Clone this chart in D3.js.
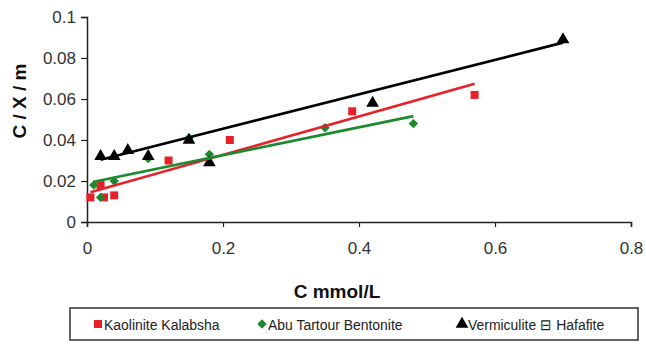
<!DOCTYPE html>
<html>
<head>
<meta charset="utf-8">
<script src="https://cdn.jsdelivr.net/npm/d3@7"></script>
<style>
  body { margin: 0; background: #fff; }
  svg { display: block; }
</style>
</head>
<body>
<div id="chart"></div>
<script>
// data
const seriesNames = ["Kaolinite Kalabsha", "Abu Tartour Bentonite", "Vermiculite \u229F Hafafite"];

const kaoliniteX = [0.005, 0.02, 0.025, 0.04, 0.12, 0.21, 0.39, 0.57];
const kaoliniteY = [0.012, 0.018, 0.012, 0.013, 0.030, 0.040, 0.054, 0.062];

const bentoniteX = [0.01, 0.02, 0.04, 0.09, 0.15, 0.18, 0.35, 0.48];
const bentoniteY = [0.018, 0.012, 0.020, 0.031, 0.041, 0.033, 0.046, 0.048];

const vermiculiteX = [0.02, 0.04, 0.06, 0.09, 0.15, 0.18, 0.42, 0.70];
const vermiculiteY = [0.032, 0.032, 0.035, 0.032, 0.040, 0.029, 0.058, 0.089];

// linear trendlines (intercept, slope) as drawn in the picture
const trendIntercept = [0.014, 0.019, 0.0287];
const trendSlope = [0.0938, 0.068, 0.084];

const xTicks = [0, 0.2, 0.4, 0.6, 0.8];
const yTicks = [0, 0.02, 0.04, 0.06, 0.08, 0.1];

const width = 646, height = 345;
const colors = ["#e8202a", "#1b8a2e", "#000000"];
const tickFont = "Arial, 'Liberation Sans', sans-serif";

const xs = [kaoliniteX, bentoniteX, vermiculiteX];
const ys = [kaoliniteY, bentoniteY, vermiculiteY];

// marker shapes: square, diamond (square turned 45deg), triangle
const markerPath = [
    d3.symbol().type(d3.symbolSquare).size(64)(),
    d3.symbol().type(d3.symbolSquare).size(44)(),
    d3.symbol().type(d3.symbolTriangle).size(70)()
];
const markerRotate = [0, 45, 0];

const x = d3.scaleLinear().domain([0, 0.8]).range([87, 631]);
const y = d3.scaleLinear().domain([0, 0.1]).range([222, 17]);

const svg = d3.select("#chart").append("svg")
    .attr("width", width).attr("height", height);

// axes
const xAxis = svg.append("g")
    .attr("transform", "translate(0," + y(0) + ")")
    .call(d3.axisBottom(x).tickValues(xTicks).tickSize(5).tickPadding(15)
        .tickFormat(d => d === 0 ? "0" : d3.format(".1f")(d)));

const yAxis = svg.append("g")
    .attr("transform", "translate(" + x(0) + ",0)")
    .call(d3.axisLeft(y).tickValues(yTicks).tickSize(6).tickPadding(5)
        .tickFormat(d => d === 0 ? "0" : d3.format("")(+d.toFixed(2))));

[xAxis, yAxis].forEach(function(a) {
    a.select(".domain").attr("stroke", "#222").attr("stroke-width", 1.5);
    a.selectAll(".tick line").attr("stroke", "#222").attr("stroke-width", 1.2);
    a.selectAll(".tick text")
        .attr("fill", "#333")
        .style("font-family", tickFont)
        .style("font-size", "17px");
});

// markers
xs.forEach(function(sx, i) {
    svg.append("g").selectAll("path")
        .data(sx.map((v, j) => [v, ys[i][j]]))
        .enter()
        .append("path")
        .attr("d", markerPath[i])
        .attr("transform", d => "translate(" + x(d[0]) + "," + y(d[1]) + ") rotate(" + markerRotate[i] + ")")
        .attr("fill", colors[i]);
});

// trendlines over the markers, spanning each series' x range
xs.forEach(function(sx, i) {
    const ext = d3.extent(sx);
    const pts = ext.map(v => [v, trendIntercept[i] + trendSlope[i] * v]);
    svg.append("path")
        .datum(pts)
        .attr("d", d3.line().x(d => x(d[0])).y(d => y(d[1])))
        .attr("fill", "none")
        .attr("stroke", colors[i])
        .attr("stroke-width", 2.6);
});

// axis titles
svg.append("text")
    .attr("x", 337).attr("y", 298)
    .attr("text-anchor", "middle")
    .style("font-family", "Arial, sans-serif")
    .style("font-weight", "bold")
    .style("font-size", "19px")
    .attr("fill", "#111")
    .text("C mmol/L");

svg.append("text")
    .attr("transform", "translate(26,101) rotate(-90)")
    .attr("text-anchor", "middle")
    .style("font-family", "Arial, sans-serif")
    .style("font-weight", "bold")
    .style("font-size", "19px")
    .attr("fill", "#111")
    .text("C / X / m");

// legend
const legend = svg.append("g");
legend.append("rect")
    .attr("x", 70).attr("y", 308)
    .attr("width", 568).attr("height", 32)
    .attr("fill", "#fff")
    .attr("stroke", "#333")
    .attr("stroke-width", 1.5);

const legendX = [98, 262, 462];
seriesNames.forEach(function(name, i) {
    const g = legend.append("g").attr("transform", "translate(" + legendX[i] + ",324)");
    g.append("path")
        .attr("d", markerPath[i])
        .attr("transform", "rotate(" + markerRotate[i] + ")")
        .attr("fill", colors[i]);
    g.append("text")
        .attr("transform", "scale(0.9,1)")
        .attr("x", 6 / 0.9).attr("y", 5.5)
        .style("font-family", tickFont)
        .style("font-size", "15.5px")
        .attr("fill", "#222")
        .text(name);
});
</script>
</body>
</html>
